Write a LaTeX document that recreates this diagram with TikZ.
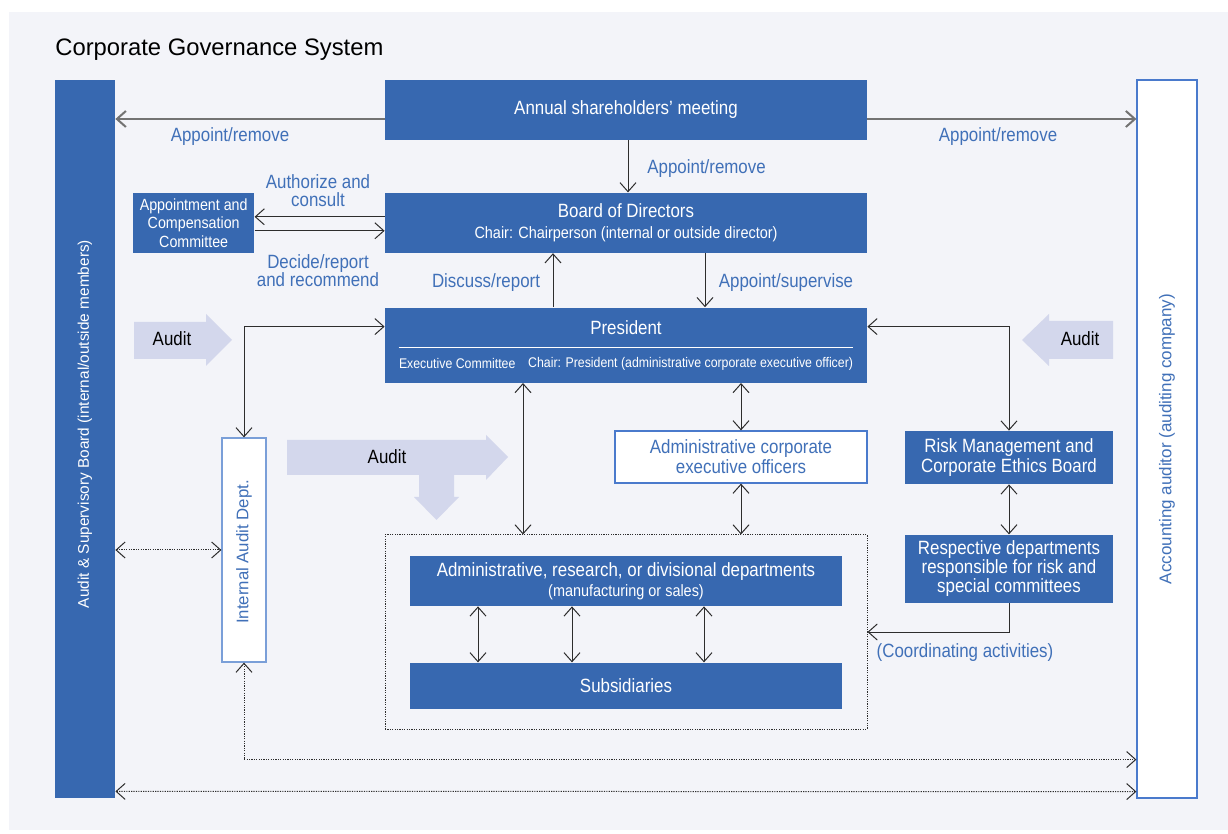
\documentclass[tikz,border=0pt]{standalone}
\usepackage{fontspec}
\setmainfont{Liberation Sans}
\newfontfamily\narrowfont{Liberation Sans}[FakeStretch=0.88]
\usetikzlibrary{arrows.meta,positioning,calc}
\definecolor{govblue}{RGB}{55,104,176}
\definecolor{labelblue}{RGB}{64,112,184}
\definecolor{panelbg}{RGB}{243,244,249}
\definecolor{auditfill}{RGB}{211,215,236}
\definecolor{edgeblue}{RGB}{74,122,204}
\definecolor{paleedge}{RGB}{122,159,216}
\definecolor{linegray}{RGB}{45,45,45}

\begin{document}
\begin{tikzpicture}[x=0.5pt, y=-0.5pt,
    >={Straight Barb[length=4.5pt,width=8pt]},
    bluebox/.style={rectangle, fill=govblue, text=white, inner sep=0pt, align=center, font=\narrowfont\fontsize{9.6}{10}\selectfont},
    openbox/.style={rectangle, fill=white, draw=edgeblue, line width=0.6pt, text=labelblue, inner sep=0pt, align=center, font=\narrowfont\fontsize{9.6}{10}\selectfont},
    lbl/.style={text=labelblue, align=center, inner sep=0pt, font=\narrowfont\fontsize{9.6}{9}\selectfont},
    audittext/.style={text=black, inner sep=0pt, font=\narrowfont\fontsize{9.6}{10}\selectfont},
    sidetext/.style={rotate=90, inner sep=0pt},
    link/.style={draw=linegray, line width=0.5pt},
    gsmlink/.style={draw=black!55, line width=1pt},
    dotlink/.style={draw=linegray, line width=0.5pt, dash pattern=on 0.6pt off 0.6pt},
    auditarrow/.style={fill=auditfill, draw=none}
]
\useasboundingbox (0,0) rectangle (1228,834);
\fill[panelbg] (9,12) rectangle (1228,830);

\node[anchor=base west, inner sep=0pt, font=\fontsize{11.9}{14}\selectfont] (title) at (55,56) {Corporate Governance System};

% side boards
\node[bluebox, minimum width=30pt, minimum height=359pt] (asb) at (85,439) {};
\node[sidetext, text=white, font=\fontsize{7.7}{9}\selectfont] (asbtext) at ([yshift=7.5pt]asb.center) {Audit \& Supervisory Board (internal/outside members)};
\node[openbox, minimum width=30pt, minimum height=359pt] (aud) at (1167,439) {};
\node[sidetext, text=labelblue, font=\fontsize{8.5}{9}\selectfont] (audtext) at (aud.center) {Accounting auditor (auditing company)};

% main column
\node[bluebox, minimum width=241pt, minimum height=30pt] (gsm) at (626,110) {Annual shareholders’ meeting};
\node[bluebox, minimum width=241pt, minimum height=30pt, below=26pt of gsm] (bod) {Board of Directors\\[0.5pt]{\fontsize{8.2}{10}\selectfont Chair: Chairperson (internal or outside director)}};
\node[bluebox, minimum width=60.5pt, minimum height=30pt, left=65pt of bod, font=\narrowfont\fontsize{8.1}{9.25}\selectfont] (acc) {Appointment and\\Compensation\\Committee};
\node[bluebox, minimum width=241pt, minimum height=37.5pt, below=27pt of bod] (pres) {};
\node[text=white, inner sep=0pt, font=\narrowfont\fontsize{9.6}{10}\selectfont] (presname) at ([yshift=8.75pt]pres.center) {President};
\draw[white, line width=0.5pt] ([xshift=7pt,yshift=-1.25pt]pres.west) -- ([xshift=-7pt,yshift=-1.25pt]pres.east);
\node[anchor=west, text=white, inner sep=0pt, font=\narrowfont\fontsize{7}{8}\selectfont] (presexec) at ([xshift=7pt,yshift=-9.25pt]pres.west) {Executive Committee};
\node[anchor=east, text=white, inner sep=0pt, font=\narrowfont\fontsize{7}{8}\selectfont] (preschair) at ([xshift=-7pt,yshift=-9.25pt]pres.east) {Chair: President (administrative corporate executive officer)};

\node[openbox, draw=paleedge, minimum width=22pt, minimum height=112pt] (iad) at (244,550) {};
\node[sidetext, text=labelblue, font=\fontsize{8.4}{9}\selectfont] (iadtext) at ([yshift=-1pt]iad.center) {Internal Audit Dept.};
\node[openbox, minimum width=126pt, minimum height=26pt] (aceo) at (741,457) {Administrative corporate\\executive officers};
\node[bluebox, minimum width=104pt, minimum height=26.5pt] (rmb) at (1009,457.5) {Risk Management and\\Corporate Ethics Board};
\node[bluebox, minimum width=104pt, minimum height=34pt, below=25pt of rmb, font=\narrowfont\fontsize{9.6}{9.5}\selectfont] (rsp) {Respective departments\\responsible for risk and\\special committees};

% departments group
\node[dotlink, rectangle, minimum width=241pt, minimum height=97pt] (grp) at (626,632) {};
\node[bluebox, minimum width=216pt, minimum height=25pt] (dept) at (626,581) {Administrative, research, or divisional departments\\{\fontsize{8.2}{9.5}\selectfont (manufacturing or sales)}};
\node[bluebox, minimum width=216pt, minimum height=23pt, below=28pt of dept] (subs) {Subsidiaries};

% audit arrows
\fill[auditarrow] (134,322) -- (206,322) -- (206,314) -- (232,340) -- (206,366) -- (206,359) -- (134,359) -- cycle;
\fill[auditarrow] (1113,321) -- (1049,321) -- (1049,314) -- (1022,340) -- (1049,366) -- (1049,359) -- (1113,359) -- cycle;
\fill[auditarrow] (287,440) -- (486,440) -- (486,435) -- (508,457) -- (486,480) -- (486,475) -- (454,475) -- (454,497) -- (459,497) -- (436.5,520) -- (414,497) -- (419,497) -- (419,475) -- (287,475) -- cycle;
\node[audittext] (auditL) at (172,339) {Audit};
\node[audittext] (auditM) at (387,457) {Audit};
\node[audittext] (auditR) at (1080,339) {Audit};

% connectors
\coordinate (gsmleft) at ([yshift=-4.5pt]gsm.west);
\coordinate (gsmright) at ([yshift=-4.5pt]gsm.east);
\draw[gsmlink,->] (gsmleft) -- (gsmleft -| asb.east);
\draw[gsmlink,->] (gsmright) -- (gsmright -| aud.west);
\draw[link,->] ([xshift=1pt]gsm.south) -- ([xshift=1pt]bod.north);
\draw[link,->] ([yshift=3pt]bod.west) -- ([yshift=3pt]acc.east);
\draw[link,->] ([yshift=-4pt]acc.east) -- ([yshift=-4pt]bod.west);
\draw[link,->] ([xshift=-36.5pt]pres.north) -- ([xshift=-36.5pt]bod.south);
\draw[link,->] ([xshift=39.5pt]bod.south) -- ([xshift=39.5pt]pres.north);

\coordinate (presleft) at ([yshift=9.25pt]pres.west);
\coordinate (presright) at ([yshift=9.25pt]pres.east);
\draw[link,<->] (presleft) -| (iad.north);
\draw[link,<->] (presright) -| (rmb.north);
\draw[link,<->] ([xshift=-51.5pt]pres.south) -- ([xshift=-51.5pt]grp.north);
\draw[link,<->] (aceo.north |- pres.south) -- (aceo.north);
\draw[link,<->] (aceo.south) -- (aceo.south |- grp.north);
\draw[link,<->] (rmb.south) -- (rsp.north);
\draw[link,->] (rsp.south) |- (grp.east);
\foreach \dx in {-74,-27,39}
  \draw[link,<->] ([xshift=\dx pt]dept.south) -- ([xshift=\dx pt]subs.north);

\coordinate (audlow) at ([yshift=19.5pt]aud.south west);
\draw[dotlink,<->] (iad.west -| asb.east) -- (iad.west);
\draw[dotlink,<->] (iad.south) |- (audlow);
\draw[dotlink,<->] ([yshift=3.5pt]asb.south east) -- ([yshift=3.5pt]aud.south west);

% labels
\node[lbl] (lblgsmL) at (230,136.5) {Appoint/remove};
\node[lbl] (lblgsmR) at (998,136.5) {Appoint/remove};
\node[lbl, anchor=west] (lblbod) at (647,168.5) {Appoint/remove};
\node[lbl] (lblauth) at (318,190.5) {Authorize and\\consult};
\node[lbl] (lbldecide) at (318,270.5) {Decide/report\\and recommend};
\node[lbl] (lbldiscuss) at (486,282.5) {Discuss/report};
\node[lbl] (lblsuper) at (786,282.5) {Appoint/supervise};
\node[lbl] (lblcoord) at (965,652.5) {(Coordinating activities)};

\end{tikzpicture}
\end{document}
